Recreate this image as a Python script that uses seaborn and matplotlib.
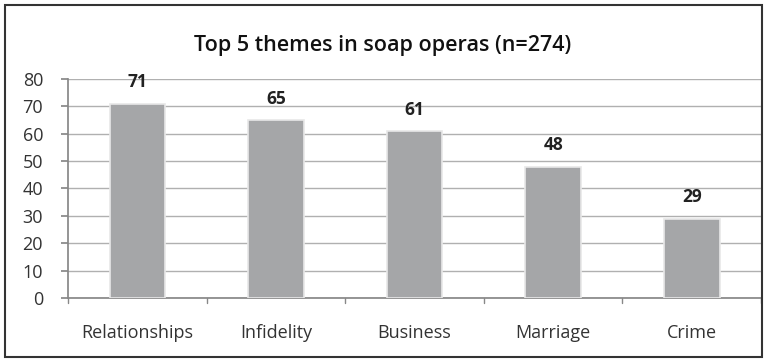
import matplotlib
matplotlib.use("Agg")
import matplotlib.pyplot as plt
import seaborn as sns
import pandas as pd
from matplotlib.patches import Rectangle

categories = ["Relationships", "Infidelity", "Business", "Marriage", "Crime"]
values = [71, 65, 61, 48, 29]
title = "Top 5 themes in soap operas (n=274)"
yticks = [0, 10, 20, 30, 40, 50, 60, 70, 80]

sns.set_theme(style="white")
plt.rcParams['font.family'] = ['Open Sans', 'DejaVu Sans']

df = pd.DataFrame({"theme": categories, "count": values})

fig = plt.figure(figsize=(7.65, 3.6), dpi=100)
ax = fig.add_axes([0.0889, 0.172, 0.906, 0.609])

sns.barplot(data=df, x="theme", y="count", color="#a5a6a8", width=0.40,
            edgecolor="#e8e8e8", linewidth=1.2, saturation=1, ax=ax, zorder=3)

ax.set_ylim(0, 80)
ax.set_xlim(-0.5, len(categories) - 0.5)
ax.set_yticks(yticks)
ax.set_yticklabels([str(t) for t in yticks], fontsize=13, color="#333333")
ax.yaxis.grid(True, color="#b0b0b0", linewidth=1.0, zorder=0)
ax.set_axisbelow(True)
ax.set_xlabel("")
ax.set_ylabel("")
ax.set_xticks(range(len(categories)))
ax.set_xticklabels(categories, fontsize=13, color="#333333")
ax.tick_params(axis="x", length=0, pad=19)
ax.tick_params(axis="y", length=5, color="#888888", left=True, pad=13, direction="out")

# category boundary ticks on x axis
for b in [i + 0.5 for i in range(len(categories))]:
    ax.plot([b, b], [0, -1.8], color="#888888", lw=1, clip_on=False)
ax.plot([-0.5, -0.5], [0, -1.8], color="#888888", lw=1, clip_on=False)

for s in ["top", "right"]:
    ax.spines[s].set_visible(False)
ax.spines["left"].set_color("#888888")
ax.spines["bottom"].set_color("#888888")

for i, v in enumerate(values):
    ax.text(i, v + 4.5, str(v), ha="center", va="bottom", fontsize=12.5,
            fontweight="bold", color="#222222")

fig.text(0.5, 0.875, title, ha="center", va="center", fontsize=15.5,
         fontweight="semibold", color="#111111")

fig.patches.append(Rectangle((5 / 765, 3 / 360), 757 / 765, 352 / 360,
                             transform=fig.transFigure, fill=False,
                             edgecolor="#333333", linewidth=1.5))

fig.savefig("out.png", dpi=100)
